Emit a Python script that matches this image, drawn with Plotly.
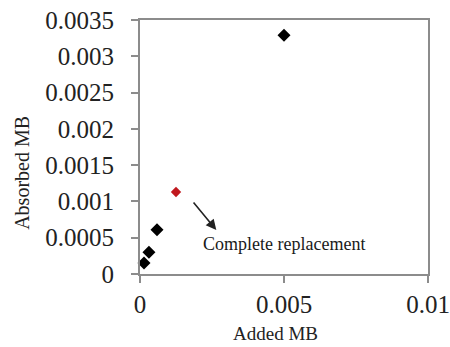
import plotly.graph_objects as go

# Added vs absorbed MB
added_mb = [0.00014, 0.00031, 0.00059, 0.005]
absorbed_mb = [0.00015, 0.00030, 0.00061, 0.00329]

# Complete replacement point
replace_added = [0.00125]
replace_absorbed = [0.00113]

y_ticks = [0, 0.0005, 0.001, 0.0015, 0.002, 0.0025, 0.003, 0.0035]
y_ticktext = ["0", "0.0005", "0.001", "0.0015", "0.002", "0.0025", "0.003", "0.0035"]
x_ticks = [0, 0.005, 0.01]
x_ticktext = ["0", "0.005", "0.01"]

axis_col = "#8c8c8c"
serif = "Liberation Serif"

fig = go.Figure()
fig.add_trace(go.Scatter(
    x=added_mb, y=absorbed_mb, mode="markers",
    marker=dict(symbol="diamond", size=10, color="black"),
    showlegend=False, cliponaxis=False,
))
fig.add_trace(go.Scatter(
    x=replace_added, y=replace_absorbed, mode="markers",
    marker=dict(symbol="diamond", size=8, color="#c0181e"),
    showlegend=False, cliponaxis=False,
))

# arrow pointing from the red point towards the label
fig.add_annotation(
    x=0.00265, y=0.000606, xref="x", yref="y",
    ax=-24, ay=-29, text="",
    showarrow=True, arrowhead=2, arrowsize=1.3, arrowwidth=1.6, arrowcolor="#222",
)
fig.add_annotation(
    x=0.00212, y=0.000413, xref="x", yref="y",
    text="Complete replacement", showarrow=False,
    xanchor="left", yanchor="middle",
    font=dict(family=serif, size=18, color="#1a1a1a"),
)

# axis titles
fig.add_annotation(
    x=-0.41, y=0.398, xref="paper", yref="paper",
    text="Absorbed MB", textangle=-90, showarrow=False,
    xanchor="center", yanchor="middle",
    font=dict(family=serif, size=20, color="#222"),
)
fig.add_annotation(
    x=0.469, y=-0.285, xref="paper", yref="paper",
    text="Added MB", showarrow=False,
    xanchor="center", yanchor="bottom",
    font=dict(family=serif, size=19, color="#222"),
)

fig.update_xaxes(
    range=[0, 0.01], tickvals=x_ticks, ticktext=x_ticktext,
    showgrid=False, zeroline=False, automargin=False,
    showline=True, linecolor=axis_col, linewidth=2, mirror=True,
    ticks="outside", ticklen=7, tickcolor=axis_col, tickwidth=1.5,
    ticklabelstandoff=0,
    tickfont=dict(family=serif, size=25, color="#222"),
)
fig.update_yaxes(
    range=[0, 0.0035], tickvals=y_ticks, ticktext=y_ticktext,
    showgrid=False, zeroline=False, automargin=False,
    showline=True, linecolor=axis_col, linewidth=2, mirror=True,
    ticks="outside", ticklen=7, tickcolor=axis_col, tickwidth=1.5,
    ticklabelstandoff=12,
    tickfont=dict(family=serif, size=25, color="#222"),
)

fig.update_layout(
    width=450, height=347,
    margin=dict(l=140, r=22, t=20, b=73),
    plot_bgcolor="white", paper_bgcolor="white",
)

fig.write_html("out.html")
